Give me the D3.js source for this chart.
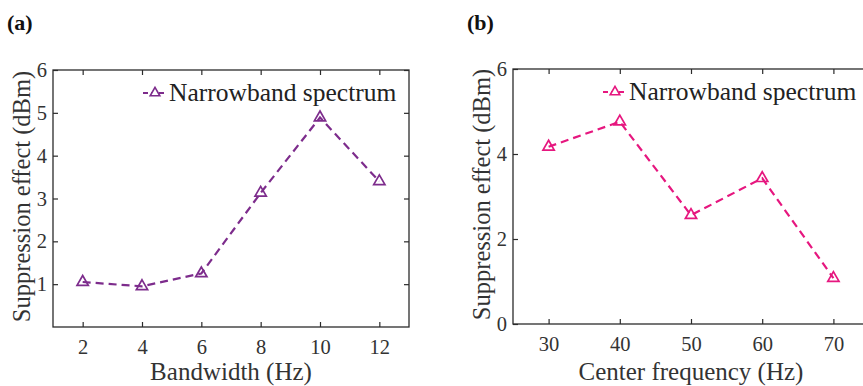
<!DOCTYPE html>
<html>
<head>
<meta charset="utf-8">
<script src="https://cdn.jsdelivr.net/npm/d3@7"></script>
<style>
  html, body { margin: 0; padding: 0; background: #fff; overflow: hidden; }
  svg { display: block; font-family: "Liberation Serif", "Times New Roman", serif; }
</style>
</head>
<body>
<svg id="chart" width="863" height="386"></svg>
<script>
// Panel (a): suppression vs bandwidth
const bandwidth = [2, 4, 6, 8, 10, 12];
const suppressionA = [1.05, 0.95, 1.25, 3.13, 4.89, 3.40];
const xTicksA = [2, 4, 6, 8, 10, 12];
const yTicksA = [1, 2, 3, 4, 5, 6];

// Panel (b): suppression vs center frequency
const centerFreq = [30, 40, 50, 60, 70];
const suppressionB = [4.17, 4.76, 2.56, 3.43, 1.08];
const xTicksB = [30, 40, 50, 60, 70];
const yTicksB = [0, 2, 4, 6];

const legendLabel = 'Narrowband spectrum';

const svg = d3.select('#chart');
svg.append('rect').attr('width', 863).attr('height', 386).attr('fill', '#fff');

const axisColor = '#2b2b2b';
const serif = '"Liberation Serif", "Times New Roman", serif';

function drawPanel(opt) {
    const { box, xDomain, yDomain, xs, ys, xTicks, yTicks, color, xLabel, tag } = opt;
    const x = d3.scaleLinear().domain(xDomain).range([box.left, box.right]);
    const y = d3.scaleLinear().domain(yDomain).range([box.bottom, box.top]);
    const g = svg.append('g');
    const fmt = d3.format('d');

    // panel tag
    g.append('text')
        .attr('x', box.left - 46)
        .attr('y', 30)
        .attr('font-size', 22)
        .attr('font-weight', 'bold')
        .attr('fill', '#111')
        .text(tag);

    // axes with inward ticks
    const styleAxis = sel => {
        sel.attr('font-family', serif);
        sel.select('.domain').remove();
        sel.selectAll('line').attr('stroke', axisColor).attr('stroke-width', 1.2);
        sel.selectAll('text').attr('fill', '#333').attr('font-size', 20.5);
    };

    g.append('g').attr('transform', `translate(0,${box.bottom})`)
        .call(d3.axisBottom(x).tickValues(xTicks).tickFormat(fmt).tickSizeInner(-5).tickSizeOuter(0).tickPadding(12))
        .call(styleAxis);
    g.append('g').attr('transform', `translate(0,${box.top})`)
        .call(d3.axisTop(x).tickValues(xTicks).tickSizeInner(-5).tickSizeOuter(0).tickFormat(''))
        .call(styleAxis);
    g.append('g').attr('transform', `translate(${box.left},0)`)
        .call(d3.axisLeft(y).tickValues(yTicks).tickFormat(fmt).tickSizeInner(-5).tickSizeOuter(0).tickPadding(6))
        .call(styleAxis);
    g.append('g').attr('transform', `translate(${box.right},0)`)
        .call(d3.axisRight(y).tickValues(yTicks).tickSizeInner(-5).tickSizeOuter(0).tickFormat(''))
        .call(styleAxis);

    // frame
    g.append('rect')
        .attr('x', box.left).attr('y', box.top)
        .attr('width', box.right - box.left).attr('height', box.bottom - box.top)
        .attr('fill', 'none').attr('stroke', axisColor).attr('stroke-width', 1.3);

    // axis titles
    g.append('text')
        .attr('x', (box.left + box.right) / 2)
        .attr('y', 380)
        .attr('text-anchor', 'middle')
        .attr('font-size', 25)
        .attr('fill', '#333')
        .text(xLabel);
    g.append('text')
        .attr('transform', `translate(${box.left - 23},${(box.top + box.bottom) / 2 - 2}) rotate(-90)`)
        .attr('text-anchor', 'middle')
        .attr('font-size', 24.5)
        .attr('fill', '#333')
        .text('Suppression effect (dBm)');

    // data line
    const pts = xs.map((d, i) => [d, ys[i]]);
    const line = d3.line().x(d => x(d[0])).y(d => y(d[1]));
    g.append('path')
        .datum(pts)
        .attr('fill', 'none')
        .attr('stroke', color)
        .attr('stroke-width', 2.2)
        .attr('stroke-dasharray', '8,5')
        .attr('d', line);

    const tri = d3.symbol().type(d3.symbolTriangle).size(55);
    g.selectAll('.mk').data(pts).enter().append('path')
        .attr('transform', d => `translate(${x(d[0])},${y(d[1])})`)
        .attr('d', tri)
        .attr('fill', 'none')
        .attr('stroke', color)
        .attr('stroke-width', 1.7);

    // legend
    const lg = g.append('g');
    const ly = box.top + 23;
    lg.append('text')
        .attr('x', opt.legendX + 26)
        .attr('y', ly + 8)
        .attr('font-size', 25.5)
        .attr('fill', '#222')
        .text(legendLabel);
    lg.append('line')
        .attr('x1', opt.legendX).attr('x2', opt.legendX + 24)
        .attr('y1', ly).attr('y2', ly)
        .attr('stroke', color).attr('stroke-width', 2)
        .attr('stroke-dasharray', '5,3');
    lg.append('path')
        .attr('transform', `translate(${opt.legendX + 12},${ly})`)
        .attr('d', d3.symbol().type(d3.symbolTriangle).size(40))
        .attr('fill', '#fff')
        .attr('stroke', color)
        .attr('stroke-width', 1.6);
}

drawPanel({
    box: { left: 53, right: 409, top: 70, bottom: 327 },
    xDomain: [1, 13], yDomain: [0, 6],
    xs: bandwidth, ys: suppressionA,
    xTicks: xTicksA, yTicks: yTicksA,
    color: '#7d2c8c',
    xLabel: 'Bandwidth (Hz)',
    tag: '(a)',
    legendX: 143
});

drawPanel({
    box: { left: 513, right: 869, top: 69, bottom: 324 },
    xDomain: [25, 75], yDomain: [0, 6],
    xs: centerFreq, ys: suppressionB,
    xTicks: xTicksB, yTicks: yTicksB,
    color: '#e6177f',
    xLabel: 'Center frequency (Hz)',
    tag: '(b)',
    legendX: 603
});
</script>
</body>
</html>
